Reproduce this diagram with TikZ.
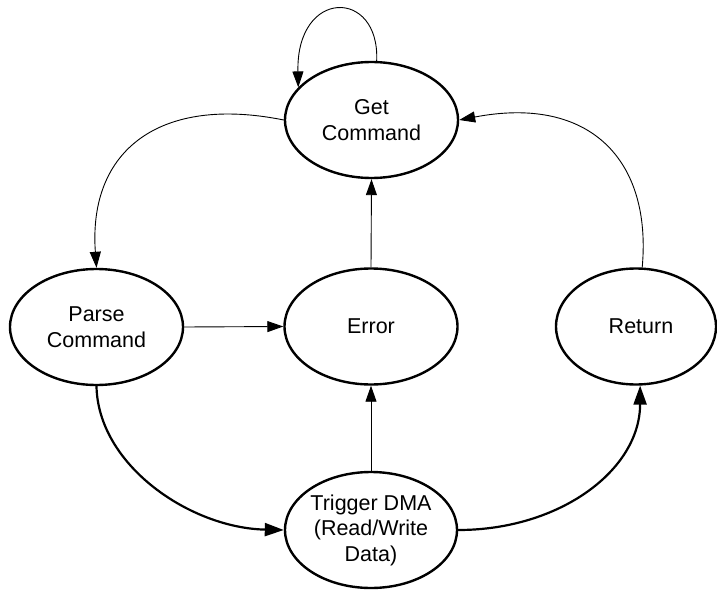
\documentclass[tikz,border=0pt]{standalone}
\usepackage{fontspec}
\setmainfont{Liberation Sans}
\usetikzlibrary{shapes.geometric,arrows.meta}
\tikzset{
  state/.style={ellipse, draw, line width=2.4pt, minimum width=173pt, minimum height=116pt,
    inner sep=0pt, align=center, font=\fontsize{21.5}{25.5}\selectfont},
  thinedge/.style={line width=0.9pt, -{Triangle[length=16pt,width=11pt]}},
  thickedge/.style={line width=2.2pt, -{Triangle[length=19pt,width=13pt]}},
}
\begin{document}
\begin{tikzpicture}[x=1pt,y=-1pt]
\useasboundingbox (0,0) rectangle (717,591);
\clip (0,0) rectangle (717,591);
\node[state] (get) at (371.5,120) {Get\\Command};
\node[state] (err) at (371,326.5) {Error};
\node[state] (parse) at (96.5,327) {Parse\\Command};
\node[state, minimum width=160pt] (ret) at (636,326.5) {\hspace*{10pt}Return};
\node[state, minimum width=172pt] (trig) at (371,530) {Trigger DMA\\(Read/Write\\Data)};

\draw[thinedge] (get.85) .. controls (380,-12) and (296,-12) .. (get.156);
\draw[thinedge] (get.west) .. controls (160,95) and (88,150) .. (parse.north);
\draw[thinedge] (ret.84) .. controls (652,160) and (590,95) .. (get.east);
\draw[thinedge] (parse.east) -- (err.west);
\draw[thinedge] (err.north) -- (get.south);
\draw[thinedge] (trig.north) -- (err.south);
\draw[thickedge] (parse.south) .. controls (98,465) and (190,528) .. (trig.west);
\draw[thickedge] (trig.east) .. controls (560,530) and (640,470) .. (ret.-86);
\end{tikzpicture}
\end{document}
